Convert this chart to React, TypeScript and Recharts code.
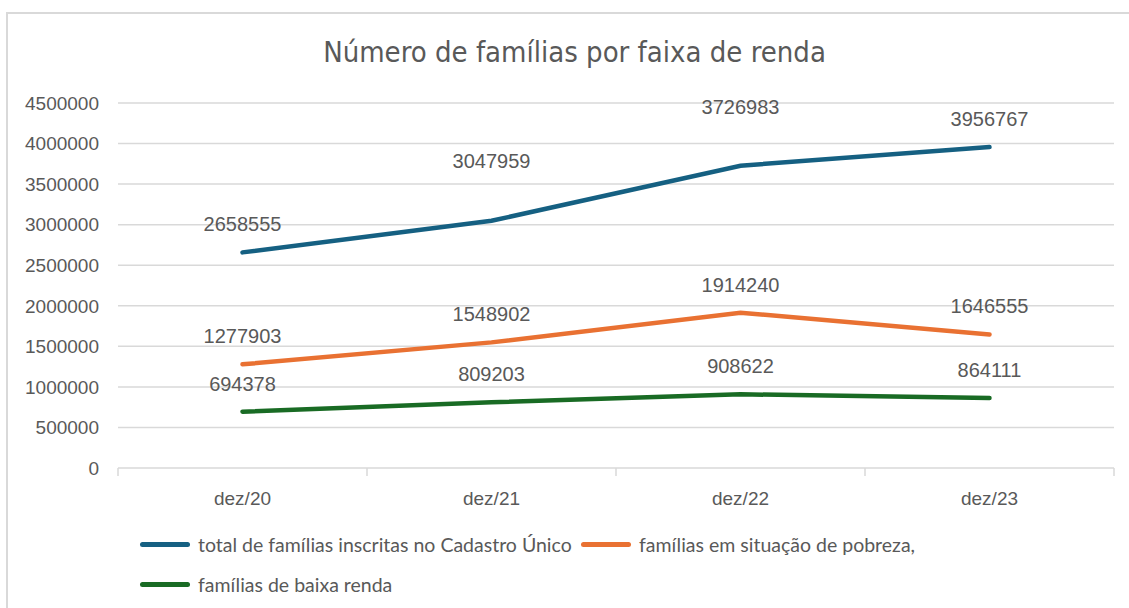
import React from 'react';
import { LineChart, Line, XAxis, YAxis, CartesianGrid, Legend, LabelList } from 'recharts';

const categories = ['dez/20', 'dez/21', 'dez/22', 'dez/23'];
const totalFamilias = [2658555, 3047959, 3726983, 3956767];
const pobreza = [1277903, 1548902, 1914240, 1646555];
const baixaRenda = [694378, 809203, 908622, 864111];
const yTicks = [0, 500000, 1000000, 1500000, 2000000, 2500000, 3000000, 3500000, 4000000, 4500000];
const seriesNames = [
  'total de famílias inscritas no Cadastro Único',
  'famílias em situação de pobreza,',
  'famílias de baixa renda',
];
const seriesColors = ['#156082', '#E97132', '#196B24'];

const data = categories.map((c, i) => ({
  cat: c,
  total: totalFamilias[i],
  pobreza: pobreza[i],
  baixa: baixaRenda[i],
}));

const NARROW = "'DejaVu Sans Condensed', 'Liberation Sans Narrow', sans-serif";
const LEG = "Lato, 'Noto Sans', sans-serif";
const SANS = "'Liberation Sans', Arial, sans-serif";
const GREY = '#595959';
const AXIS = '#d9d9d9';
const TICK_GAP = 24;

const makeLabel = (extra: number[]) => (props: any) => {
  const { x, y, value, index } = props;
  return (
    <text x={x} y={y - 21 - (extra[index] || 0)} textAnchor="middle" fill={GREY} fontSize={20} fontFamily={SANS}>
      {value}
    </text>
  );
};

const XTick = (props: any) => {
  const { x, y, payload, index } = props;
  const off = payload && payload.offset ? payload.offset : 0;
  const ay = y - TICK_GAP;
  const isLast = index === categories.length - 1;
  return (
    <g>
      <line x1={x - off} x2={x - off} y1={ay} y2={ay + 8} stroke={AXIS} strokeWidth={1.5} />
      {isLast && <line x1={x + off} x2={x + off} y1={ay} y2={ay + 8} stroke={AXIS} strokeWidth={1.5} />}
      <text x={x} y={y} dy="0.71em" textAnchor="middle" fill={GREY} fontSize={19} fontFamily={SANS}>
        {payload.value}
      </text>
    </g>
  );
};

const LegendContent = () => {
  const rows = [[0, 1], [2]];
  const starts = [140, 581];
  return (
    <div style={{ position: 'relative', width: 1129, height: 80 }}>
      {rows.map((r, ri) =>
        r.map((si, k) => (
          <div
            key={si}
            style={{
              position: 'absolute',
              left: starts[k],
              top: ri * 40,
              display: 'flex',
              alignItems: 'center',
              height: 24,
              whiteSpace: 'nowrap',
            }}
          >
            <div style={{ width: 50, height: 5, borderRadius: 3, background: seriesColors[si], marginRight: 8 }} />
            <span style={{ fontFamily: LEG, fontSize: 19.5, color: GREY }}>{seriesNames[si]}</span>
          </div>
        ))
      )}
    </div>
  );
};

export default function App() {
  return (
    <div style={{ position: 'absolute', left: 0, top: 0, width: 1129, height: 608, overflow: 'hidden', background: '#fff' }}>
      <div
        style={{
          position: 'absolute',
          left: 6,
          top: 12,
          width: 1140,
          height: 620,
          border: '2px solid #d9d9d9',
          boxSizing: 'border-box',
        }}
      />
      <div
        style={{
          position: 'absolute',
          left: 0,
          top: 36,
          width: 1129,
          textAlign: 'center',
          fontFamily: NARROW,
          fontSize: 29,
          color: GREY,
          lineHeight: '32px',
          paddingLeft: 20,
          boxSizing: 'border-box',
        }}
      >
        Número de famílias por faixa de renda
      </div>
      <div style={{ position: 'absolute', left: 0, top: 0 }}>
        <LineChart width={1129} height={608} data={data} margin={{ top: 103, right: 15, bottom: 0, left: 0 }}>
          <CartesianGrid vertical={false} stroke={AXIS} strokeWidth={1.5} />
          <XAxis
            dataKey="cat"
            scale="band"
            height={140}
            axisLine={false}
            tickLine={false}
            tickSize={0}
            tickMargin={TICK_GAP}
            tick={XTick}
          />
          <YAxis
            width={118}
            domain={[0, 4500000]}
            ticks={yTicks}
            axisLine={false}
            tickLine={false}
            tickSize={0}
            tickMargin={19}
            tick={{ fill: GREY, fontSize: 19, fontFamily: SANS }}
          />
          <Legend
            layout="horizontal"
            verticalAlign="middle"
            align="center"
            content={LegendContent}
            wrapperStyle={{ position: 'absolute', top: 532, left: 0, width: 1129 }}
          />
          <Line dataKey="total" name={seriesNames[0]} stroke={seriesColors[0]} strokeWidth={4.5} dot={false} strokeLinecap="round" isAnimationActive={false}>
            <LabelList dataKey="total" content={makeLabel([0, 32, 31, 0])} />
          </Line>
          <Line dataKey="pobreza" name={seriesNames[1]} stroke={seriesColors[1]} strokeWidth={4.5} dot={false} strokeLinecap="round" isAnimationActive={false}>
            <LabelList dataKey="pobreza" content={makeLabel([0, 0, 0, 0])} />
          </Line>
          <Line dataKey="baixa" name={seriesNames[2]} stroke={seriesColors[2]} strokeWidth={4.5} dot={false} strokeLinecap="round" isAnimationActive={false}>
            <LabelList dataKey="baixa" content={makeLabel([0, 0, 0, 0])} />
          </Line>
        </LineChart>
      </div>
    </div>
  );
}
